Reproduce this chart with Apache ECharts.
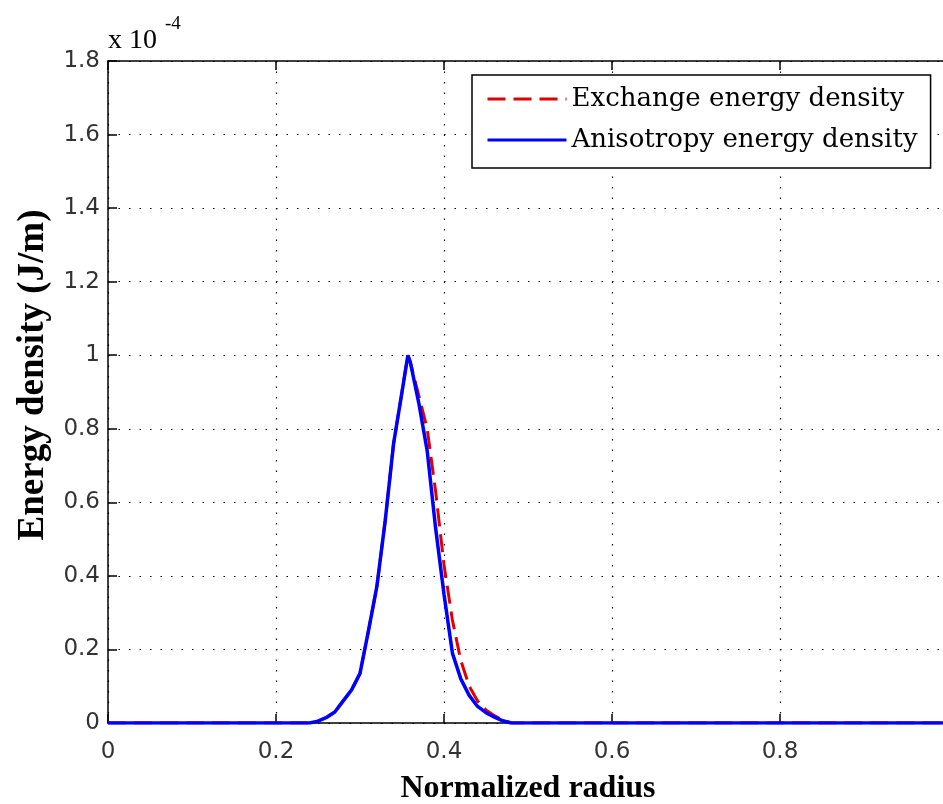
<!DOCTYPE html>
<html>
<head>
<meta charset="utf-8">
<script src="https://cdn.jsdelivr.net/npm/echarts@6/dist/echarts.min.js"></script>
<style>html,body{margin:0;padding:0;background:#fff}#c{width:943px;height:804px}</style>
</head>
<body>
<div id="c"></div>
<script>
// Normalized radius sample points
var radius = [0, 0.24, 0.25, 0.26, 0.27, 0.28, 0.29, 0.30, 0.31, 0.32, 0.33, 0.34, 0.35, 0.357, 0.36, 0.37, 0.38, 0.39, 0.40, 0.41, 0.42, 0.43, 0.44, 0.45, 0.46, 0.47, 0.48, 1.0];
// Energy density in units of 1e-4 J/m
var exchangeEnergy = [0, 0, 0.005, 0.015, 0.03, 0.06, 0.09, 0.135, 0.25, 0.37, 0.55, 0.76, 0.90, 1.0, 0.98, 0.89, 0.80, 0.63, 0.43, 0.28, 0.17, 0.10, 0.06, 0.035, 0.02, 0.008, 0, 0];
var anisotropyEnergy = [0, 0, 0.005, 0.015, 0.03, 0.06, 0.09, 0.135, 0.25, 0.37, 0.55, 0.76, 0.90, 1.0, 0.98, 0.87, 0.74, 0.53, 0.35, 0.19, 0.12, 0.075, 0.045, 0.028, 0.016, 0.006, 0, 0];
var xTicks = [0, 0.2, 0.4, 0.6, 0.8, 1];
var yTicks = [0, 0.2, 0.4, 0.6, 0.8, 1, 1.2, 1.4, 1.6, 1.8];
var seriesNames = ['Exchange energy density', 'Anisotropy energy density'];

function pairs(xs, ys) { return xs.map(function (x, i) { return [x, ys[i]]; }); }

var chart = echarts.init(document.getElementById('c'), null, {renderer: 'canvas'});
var tickFont = {fontFamily: 'DejaVu Sans', fontSize: 23, color: '#333'};
var dotted = {show: true, lineStyle: {color: '#000', width: 1.2, type: [1.5, 9]}};
chart.setOption({
  animation: false,
  backgroundColor: '#fff',
  grid: {left: 108, top: 61, width: 840, height: 662, containLabel: false, outerBoundsMode: 'none'},
  xAxis: [{
    type: 'value', min: xTicks[0], max: xTicks[xTicks.length - 1], interval: 0.2,
    name: 'Normalized radius', nameLocation: 'middle', nameGap: 50,
    nameTextStyle: {fontFamily: 'Liberation Serif', fontWeight: 'bold', fontSize: 32, color: '#000'},
    axisLine: {show: true, lineStyle: {color: '#000', width: 1.5}},
    axisTick: {show: true, inside: true, length: 9, lineStyle: {color: '#000', width: 1.5}},
    axisLabel: Object.assign({margin: 18, showMaxLabel: false}, tickFont),
    splitLine: dotted
  }, {
    type: 'value', position: 'top', min: 0, max: 1, interval: 0.2,
    axisLine: {show: true, lineStyle: {color: '#000', width: 1.5}},
    axisTick: {show: true, inside: true, length: 9, lineStyle: {color: '#000', width: 1.5}},
    axisLabel: {show: false}, splitLine: {show: false}
  }],
  yAxis: [{
    type: 'value', min: yTicks[0], max: yTicks[yTicks.length - 1], interval: 0.2,
    name: 'Energy density (J/m)', nameLocation: 'middle', nameGap: 56,
    nameTextStyle: {fontFamily: 'Liberation Serif', fontWeight: 'bold', fontSize: 37, color: '#000', padding: [0, 0, 0, 34]},
    axisLine: {show: true, lineStyle: {color: '#000', width: 1.5}},
    axisTick: {show: true, inside: true, length: 9, lineStyle: {color: '#000', width: 1.5}},
    axisLabel: Object.assign({margin: 8}, tickFont),
    splitLine: dotted
  }],
  legend: {
    orient: 'vertical', left: 472, top: 75,
    padding: [9, 13, 13, 14], itemGap: 11, itemWidth: 79, itemHeight: 24,
    backgroundColor: '#fff', borderColor: '#000', borderWidth: 1.5,
    itemStyle: {opacity: 0},
    lineStyle: {width: 3},
    textStyle: {fontFamily: 'DejaVu Serif', fontSize: 26, color: '#000', lineHeight: 30},
    data: seriesNames
  },
  graphic: [{
    type: 'text', left: 108, top: 27,
    style: {text: 'x 10', fontFamily: 'Liberation Serif', fontSize: 28, fill: '#000'}
  }, {
    type: 'text', left: 165, top: 15,
    style: {text: '-4', fontFamily: 'Liberation Serif', fontSize: 19, fill: '#000'}
  }],
  series: [{
    name: seriesNames[0], type: 'line', data: pairs(radius, exchangeEnergy),
    showSymbol: false, symbol: 'none',
    lineStyle: {color: '#e00000', width: 3, type: [18, 8]}, itemStyle: {color: '#e00000'}
  }, {
    name: seriesNames[1], type: 'line', data: pairs(radius, anisotropyEnergy),
    showSymbol: false, symbol: 'none',
    lineStyle: {color: '#0000ff', width: 3.5}, itemStyle: {color: '#0000ff'}
  }]
});
</script>
</body>
</html>
